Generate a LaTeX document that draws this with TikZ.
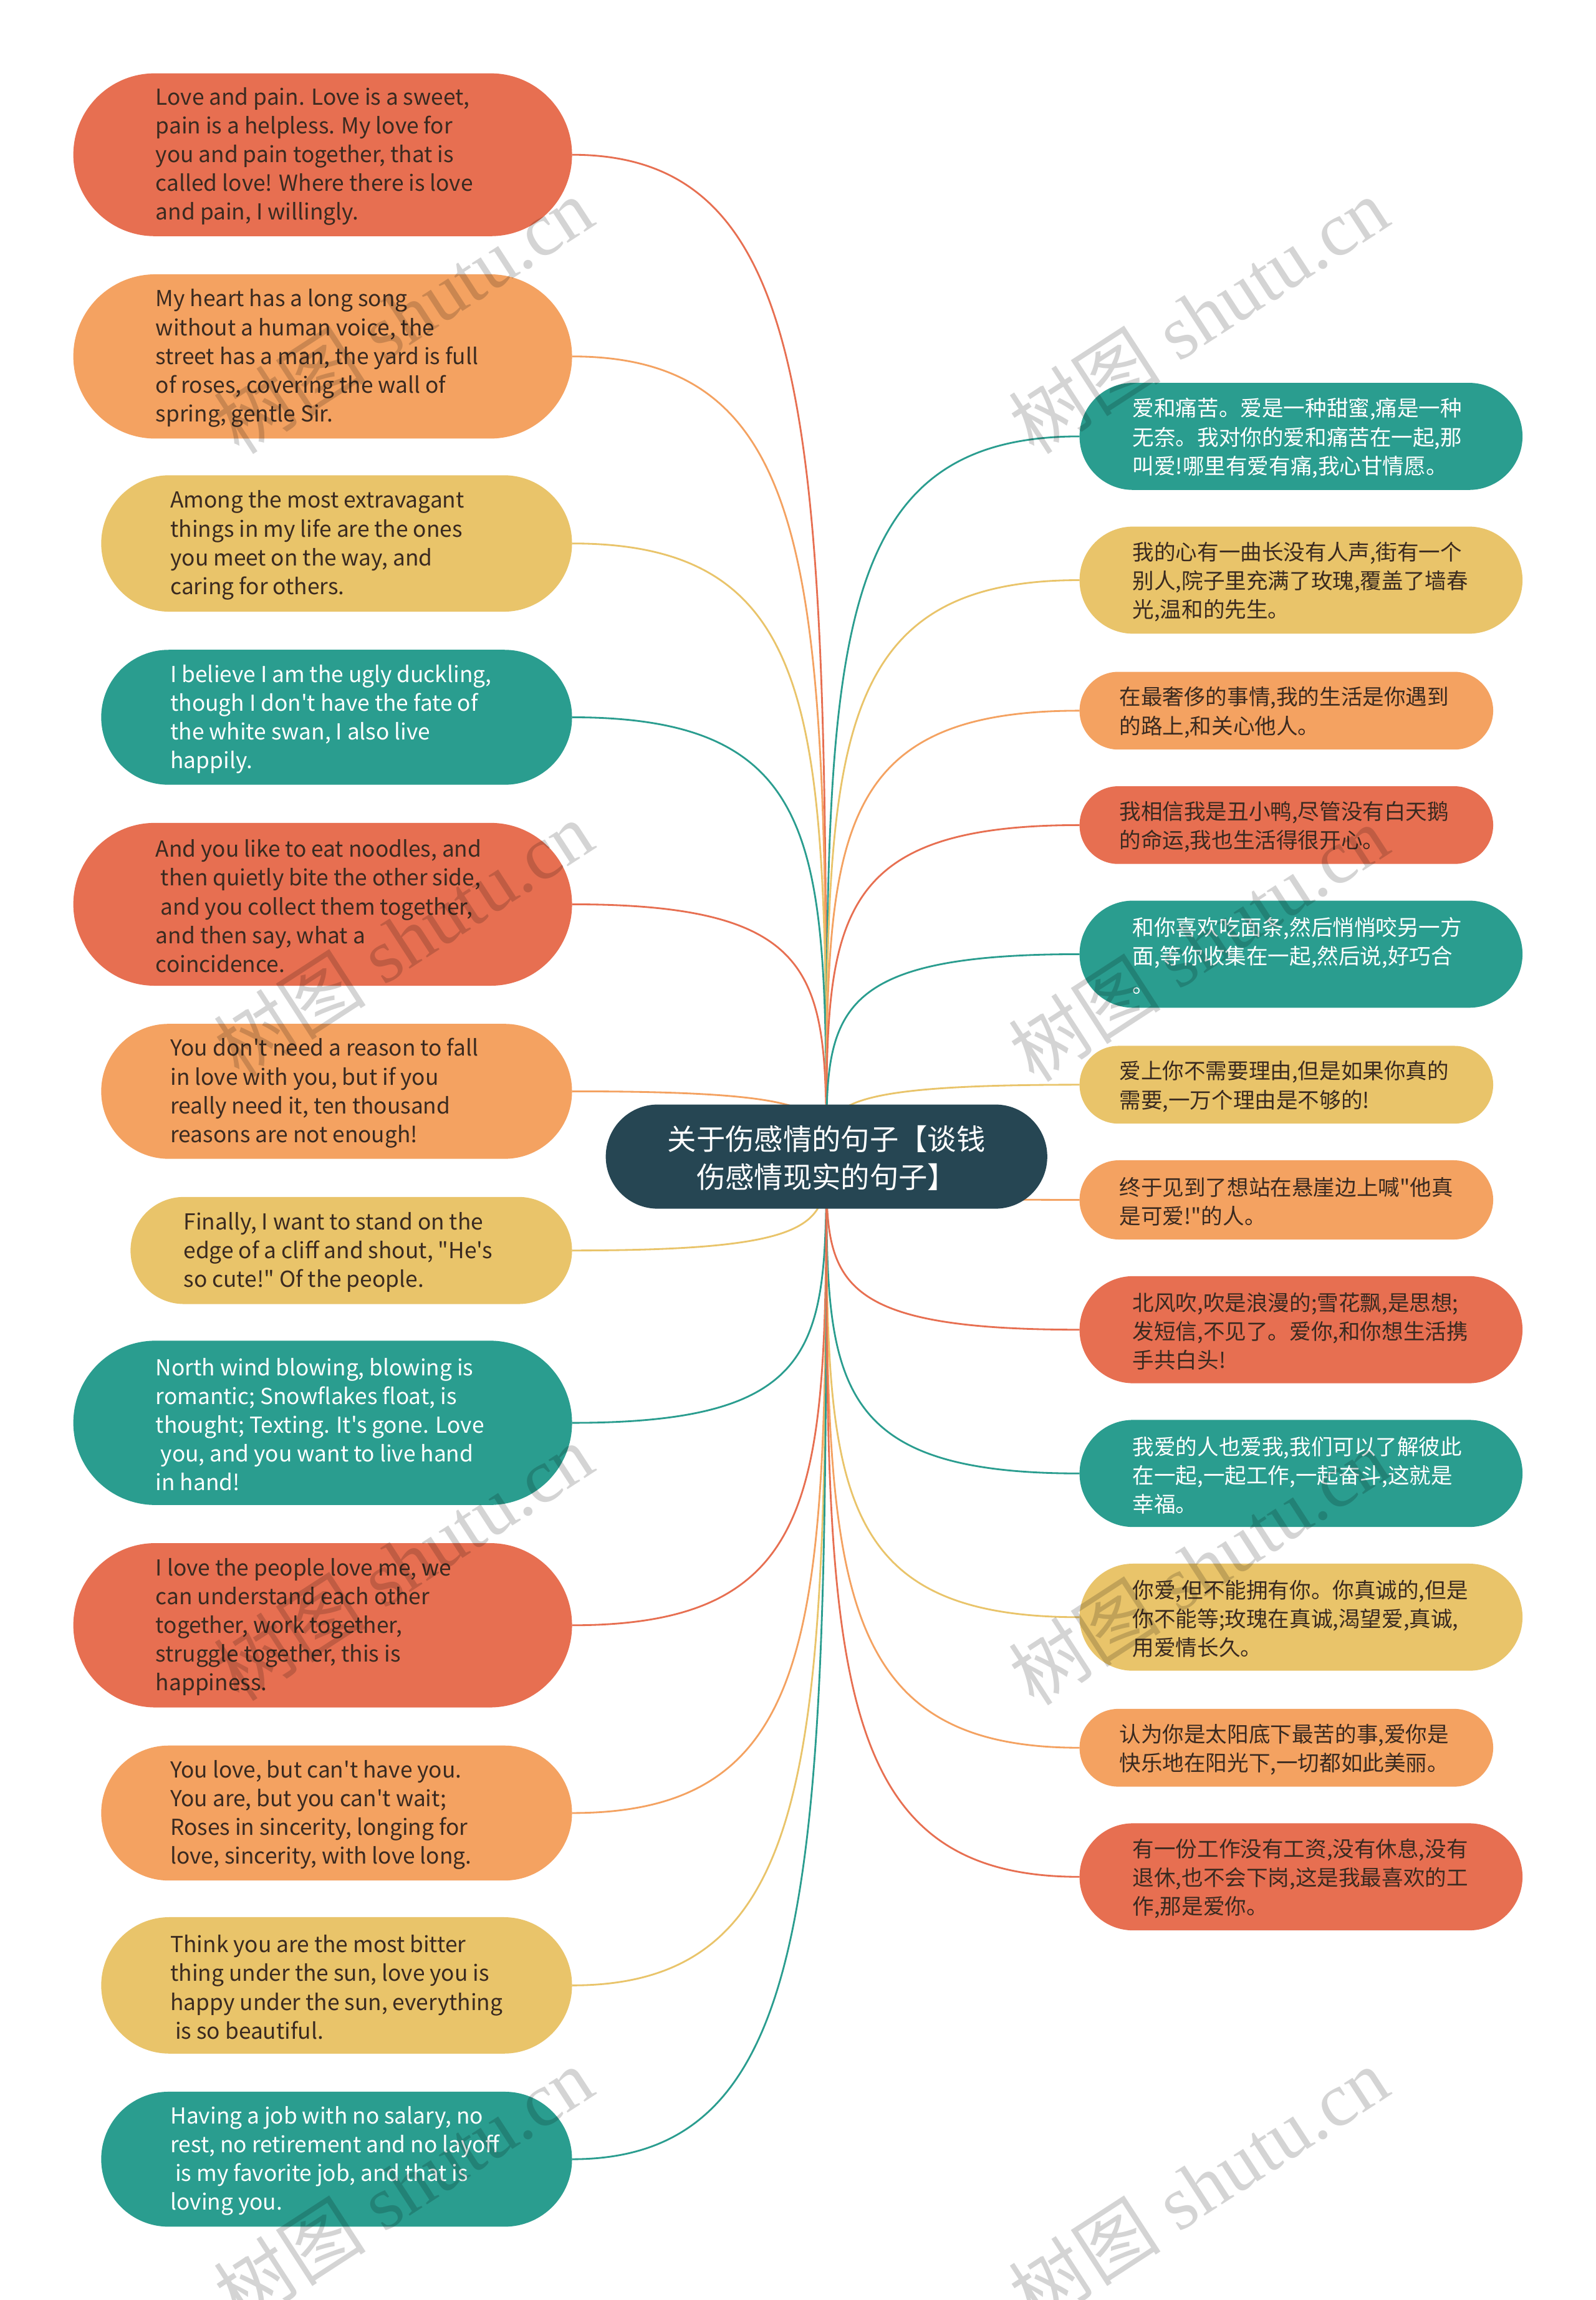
\documentclass[tikz,border=0pt]{standalone}
\usepackage{fontspec}
\newfontfamily\cjk{Noto Sans CJK SC}
\newfontfamily\wmserif{Liberation Serif}
\definecolor{cCoral}{HTML}{E76F51}
\definecolor{cOrange}{HTML}{F4A261}
\definecolor{cYellow}{HTML}{E9C46A}
\definecolor{cTeal}{HTML}{2A9D8F}
\definecolor{cCenter}{HTML}{264653}
\definecolor{cInk}{HTML}{3A2A20}
\pgfdeclarelayer{back}
\pgfdeclarelayer{lines}
\pgfsetlayers{back,lines,main}
\tikzset{
  pillshape/.style={shape=rectangle, draw=none, inner sep=0pt, outer sep=0pt},
  pilltext/.style={align=left, inner sep=0pt, yshift=-1.2pt, font=\cjk\fontsize{14.7}{19.6}\selectfont},
  entext/.style={font=\cjk\fontsize{15}{19.6}\selectfont},
  zhtext/.style={},
  lc/.style={draw=#1, line width=1.2pt},
  wm/.style={text=black, text opacity=0.17, inner sep=0pt, font=\fontsize{52}{60}\selectfont},
}
\newcommand\mkpill[9]{%
  \pgfmathsetmacro\pw{#3-#2}%
  \pgfmathsetmacro\ph{#5-#4}%
  \pgfmathsetmacro\pcx{(#2+#3)/2}%
  \pgfmathsetmacro\pcy{(#4+#5)/2}%
  \pgfmathsetmacro\pr{\ph/2-0.05}%
  \node[pillshape, fill=#6, minimum width=\pw pt, minimum height=\ph pt, rounded corners=\pr pt] (#1) at (\pcx,\pcy) {};
  \node[pilltext, text=#7, anchor=west, \pilllang] (#1t) at (#8,\pcy) {#9};
}
\begin{document}
\begin{tikzpicture}[x=1pt,y=-1pt]
\begin{pgfonlayer}{back}
\fill[white] (0,0) rectangle (1088,1568);
\end{pgfonlayer}
\useasboundingbox (0,0) rectangle (1088,1568);

% centre
\node[pillshape, fill=cCenter, minimum width=301pt, minimum height=71pt, rounded corners=35.4pt] (C) at (563.5,788.5) {};
\node[align=center, inner sep=0pt, text=white, font=\cjk\fontsize{19.7}{26}\selectfont] (Ct) at (563.5,789.5) {关于伤感情的句子【谈钱\\伤感情现实的句子】};

% left
\def\pilllang{entext}
\mkpill{L1}{50}{390}{50}{161}{cCoral}{cInk}{106}{Love and pain. Love is a sweet,\\pain is a helpless. My love for\\you and pain together, that is\\called love! Where there is love\\and pain, I willingly.}
\mkpill{L2}{50}{390}{187}{299}{cOrange}{cInk}{106}{My heart has a long song\\without a human voice, the\\street has a man, the yard is full\\of roses, covering the wall of\\spring, gentle Sir.}
\mkpill{L3}{69}{390}{324}{417}{cYellow}{cInk}{116}{Among the most extravagant\\things in my life are the ones\\you meet on the way, and\\caring for others.}
\mkpill{L4}{69}{390}{443}{535}{cTeal}{white}{116}{I believe I am the ugly duckling,\\though I don't have the fate of\\the white swan, I also live\\happily.}
\mkpill{L5}{50}{390}{561}{672}{cCoral}{cInk}{106}{And you like to eat noodles, and\\\ then quietly bite the other side,\\\ and you collect them together,\\and then say, what a\\coincidence.}
\mkpill{L6}{69}{390}{698}{790}{cOrange}{cInk}{116}{You don't need a reason to fall\\in love with you, but if you\\really need it, ten thousand\\reasons are not enough!}
\mkpill{L7}{89}{390}{816}{889}{cYellow}{cInk}{125}{Finally, I want to stand on the\\edge of a cliff and shout, "He's\\so cute!" Of the people.}
\mkpill{L8}{50}{390}{914}{1026}{cTeal}{white}{106}{North wind blowing, blowing is\\romantic; Snowflakes float, is\\thought; Texting. It's gone. Love\\\ you, and you want to live hand\\in hand!}
\mkpill{L9}{50}{390}{1052}{1164}{cCoral}{cInk}{106}{I love the people love me, we\\can understand each other\\together, work together,\\struggle together, this is\\happiness.}
\mkpill{L10}{69}{390}{1190}{1282}{cOrange}{cInk}{116}{You love, but can't have you.\\You are, but you can't wait;\\Roses in sincerity, longing for\\love, sincerity, with love long.}
\mkpill{L11}{69}{390}{1307}{1400}{cYellow}{cInk}{116}{Think you are the most bitter\\thing under the sun, love you is\\happy under the sun, everything\\\ is so beautiful.}
\mkpill{L12}{69}{390}{1426}{1518}{cTeal}{white}{116}{Having a job with no salary, no\\rest, no retirement and no layoff\\\ is my favorite job, and that is\\loving you.}

% right
\def\pilllang{zhtext}
\mkpill{R1}{736}{1038}{261}{334}{cTeal}{white}{772}{爱和痛苦。爱是一种甜蜜,痛是一种\\无奈。我对你的爱和痛苦在一起,那\\叫爱!哪里有爱有痛,我心甘情愿。}
\mkpill{R2}{736}{1038}{359}{432}{cYellow}{cInk}{772}{我的心有一曲长没有人声,街有一个\\别人,院子里充满了玫瑰,覆盖了墙春\\光,温和的先生。}
\mkpill{R3}{736}{1018}{458}{511}{cOrange}{cInk}{763}{在最奢侈的事情,我的生活是你遇到\\的路上,和关心他人。}
\mkpill{R4}{736}{1018}{536}{589}{cCoral}{cInk}{763}{我相信我是丑小鸭,尽管没有白天鹅\\的命运,我也生活得很开心。}
\mkpill{R5}{736}{1038}{614}{687}{cTeal}{white}{772}{和你喜欢吃面条,然后悄悄咬另一方\\面,等你收集在一起,然后说,好巧合\\。}
\mkpill{R6}{736}{1018}{713}{766}{cYellow}{cInk}{763}{爱上你不需要理由,但是如果你真的\\需要,一万个理由是不够的!}
\mkpill{R7}{736}{1018}{791}{845}{cOrange}{cInk}{763}{终于见到了想站在悬崖边上喊"他真\\是可爱!"的人。}
\mkpill{R8}{736}{1038}{870}{943}{cCoral}{cInk}{772}{北风吹,吹是浪漫的;雪花飘,是思想;\\发短信,不见了。爱你,和你想生活携\\手共白头!}
\mkpill{R9}{736}{1038}{968}{1041}{cTeal}{white}{772}{我爱的人也爱我,我们可以了解彼此\\在一起,一起工作,一起奋斗,这就是\\幸福。}
\mkpill{R10}{736}{1038}{1066}{1139}{cYellow}{cInk}{772}{你爱,但不能拥有你。你真诚的,但是\\你不能等;玫瑰在真诚,渴望爱,真诚,\\用爱情长久。}
\mkpill{R11}{736}{1018}{1165}{1218}{cOrange}{cInk}{763}{认为你是太阳底下最苦的事,爱你是\\快乐地在阳光下,一切都如此美丽。}
\mkpill{R12}{736}{1038}{1243}{1316}{cCoral}{cInk}{772}{有一份工作没有工资,没有休息,没有\\退休,也不会下岗,这是我最喜欢的工\\作,那是爱你。}

% connectors
\begin{pgfonlayer}{lines}
\draw[lc=cCoral]  (L1.east)  .. controls (563,105.5) and (563,310.5) .. (C.center);
\draw[lc=cOrange] (L2.east)  .. controls (563,243) and (563,406.8) .. (C.center);
\draw[lc=cYellow] (L3.east)  .. controls (563,370.5) and (563,496) .. (C.center);
\draw[lc=cTeal]   (L4.east)  .. controls (563,489) and (563,579) .. (C.center);
\draw[lc=cCoral]  (L5.east)  .. controls (563,616.5) and (563,668) .. (C.center);
\draw[lc=cOrange] (L6.east)  .. controls (563,744) and (563,757.5) .. (C.center);
\draw[lc=cYellow] (L7.east)  .. controls (563,852.5) and (563,833.5) .. (C.center);
\draw[lc=cTeal]   (L8.east)  .. controls (563,970) and (563,915.7) .. (C.center);
\draw[lc=cCoral]  (L9.east)  .. controls (563,1108) and (563,1012.3) .. (C.center);
\draw[lc=cOrange] (L10.east) .. controls (563,1236) and (563,1101.9) .. (C.center);
\draw[lc=cYellow] (L11.east) .. controls (563,1353.5) and (563,1184.2) .. (C.center);
\draw[lc=cTeal]   (L12.east) .. controls (563,1472) and (563,1267.1) .. (C.center);
\draw[lc=cTeal]   (R1.west)  .. controls (563,297.5) and (563,445) .. (C.center);
\draw[lc=cYellow] (R2.west)  .. controls (563,395.5) and (563,513.6) .. (C.center);
\draw[lc=cOrange] (R3.west)  .. controls (563,484.5) and (563,575.9) .. (C.center);
\draw[lc=cCoral]  (R4.west)  .. controls (563,562.5) and (563,630.5) .. (C.center);
\draw[lc=cTeal]   (R5.west)  .. controls (563,650.5) and (563,692) .. (C.center);
\draw[lc=cYellow] (R6.west)  .. controls (563,739.5) and (563,754.4) .. (C.center);
\draw[lc=cOrange] (R7.west)  .. controls (563,818) and (563,809.3) .. (C.center);
\draw[lc=cCoral]  (R8.west)  .. controls (563,906.5) and (563,871.3) .. (C.center);
\draw[lc=cTeal]   (R9.west)  .. controls (563,1004.5) and (563,939.9) .. (C.center);
\draw[lc=cYellow] (R10.west) .. controls (563,1102.5) and (563,1008.5) .. (C.center);
\draw[lc=cOrange] (R11.west) .. controls (563,1191.5) and (563,1070.8) .. (C.center);
\draw[lc=cCoral]  (R12.west) .. controls (563,1279.5) and (563,1132.4) .. (C.center);
\end{pgfonlayer}

% watermarks
\node[wm, rotate=33] (W1) at (275,215) {{\cjk 树图}\hspace{0.25em}{\wmserif shutu.cn}};
\node[wm, rotate=33] (W2) at (817,215) {{\cjk 树图}\hspace{0.25em}{\wmserif shutu.cn}};
\node[wm, rotate=33] (W3) at (275,640) {{\cjk 树图}\hspace{0.25em}{\wmserif shutu.cn}};
\node[wm, rotate=33] (W4) at (817,643) {{\cjk 树图}\hspace{0.25em}{\wmserif shutu.cn}};
\node[wm, rotate=33] (W5) at (275,1065) {{\cjk 树图}\hspace{0.25em}{\wmserif shutu.cn}};
\node[wm, rotate=33] (W6) at (817,1068) {{\cjk 树图}\hspace{0.25em}{\wmserif shutu.cn}};
\node[wm, rotate=33] (W7) at (275,1490) {{\cjk 树图}\hspace{0.25em}{\wmserif shutu.cn}};
\node[wm, rotate=33] (W8) at (817,1490) {{\cjk 树图}\hspace{0.25em}{\wmserif shutu.cn}};
\end{tikzpicture}
\end{document}
